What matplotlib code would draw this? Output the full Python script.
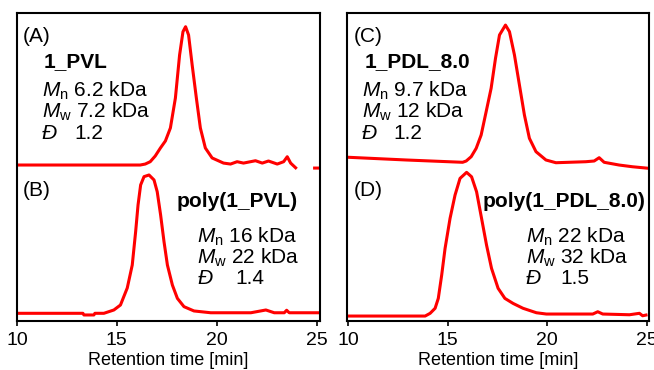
import numpy as np
import matplotlib
matplotlib.use("Agg")
import matplotlib.pyplot as plt

plt.rcParams['font.family'] = ['Liberation Sans', 'DejaVu Sans']
plt.rcParams['mathtext.fontset'] = 'custom'
plt.rcParams['mathtext.it'] = 'Liberation Sans:italic'
plt.rcParams['mathtext.rm'] = 'Liberation Sans'

# ---- data (retention time [min], detector signal) ----
tA = [10.0, 16.17, 16.42, 16.67, 16.92, 17.18, 17.43, 17.68, 17.93, 18.14, 18.31, 18.44,
      18.59, 18.77, 18.98, 19.18, 19.43, 19.77, 20.34, 20.69, 21.02, 21.34, 21.94, 22.28,
      22.59, 23.03, 23.35, 23.53, 23.70, 23.95, np.nan, 24.90, 25.10]
iA = [0.0, 0.0, 0.007, 0.024, 0.065, 0.123, 0.174, 0.268, 0.484, 0.795, 0.964, 1.0,
      0.94, 0.723, 0.484, 0.268, 0.123, 0.051, 0.014, 0.007, 0.024, 0.014, 0.031, 0.014,
      0.029, 0.007, 0.024, 0.06, 0.014, -0.02, np.nan, -0.022, -0.022]

tB = [10.0, 13.30, 13.35, 13.85, 13.90, 14.35, 14.85, 15.18, 15.52, 15.77, 15.94, 16.06,
      16.19, 16.36, 16.61, 16.86, 17.02, 17.19, 17.36, 17.53, 17.78, 18.03, 18.36, 18.86,
      19.70, 21.71, 22.46, 22.88, 23.38, 23.50, 23.63, 25.05]
iB = [0.0, 0.0, -0.012, -0.012, 0.0, 0.0, 0.024, 0.06, 0.183, 0.349, 0.59, 0.783,
      0.928, 0.988, 1.0, 0.964, 0.879, 0.711, 0.518, 0.349, 0.204, 0.108, 0.048, 0.017,
      0.004, 0.004, 0.024, 0.004, 0.004, 0.022, 0.004, 0.004]

tC = [10.0, 12.93, 15.75, 15.93, 16.18, 16.43, 16.68, 16.93, 17.18, 17.40, 17.60, 17.90,
      18.10, 18.35, 18.60, 18.85, 19.10, 19.43, 19.93, 20.43, 21.93, 22.35, 22.60, 22.85,
      23.60, 24.27, 25.10]
iC = [0.033, 0.014, -0.002, 0.007, 0.037, 0.095, 0.188, 0.35, 0.513, 0.722, 0.884, 0.953,
      0.907, 0.745, 0.536, 0.327, 0.165, 0.072, 0.014, -0.005, 0.002, 0.007, 0.03, -0.002,
      -0.021, -0.033, -0.044]

tD = [9.95, 13.87, 14.12, 14.37, 14.53, 14.70, 14.87, 15.12, 15.37, 15.62, 15.95, 16.20,
      16.45, 16.70, 16.95, 17.20, 17.53, 17.87, 18.28, 18.78, 19.45, 19.95, 22.28, 22.53,
      22.78, 24.12, 24.62, 24.78, 24.95]
iD = [0.0, 0.0, 0.019, 0.054, 0.123, 0.285, 0.471, 0.68, 0.842, 0.958, 1.0, 0.969,
      0.865, 0.68, 0.494, 0.332, 0.193, 0.123, 0.088, 0.054, 0.023, 0.014, 0.014, 0.03,
      0.014, 0.009, 0.019, 0.002, 0.007]

xticks = [10, 15, 20, 25]
xlabel = "Retention time [min]"

OFFSET = 1.072
RED = '#ff0000'

fig = plt.figure(figsize=(6.54, 3.70), dpi=100)
axL = fig.add_axes([17/654, 49.5/370, 303/654, 307.5/370])
axR = fig.add_axes([347/654, 49.5/370, 302/654, 307.5/370])

def style(ax, xlim, ylim):
    ax.set_xlim(*xlim)
    ax.set_ylim(*ylim)
    ax.set_xticks(xticks)
    ax.set_yticks([])
    for s in ax.spines.values():
        s.set_linewidth(1.5)
        s.set_color('black')
    ax.tick_params(axis='x', direction='out', length=3.6, width=1.2, pad=4.5, labelsize=14)
    ax.set_xlabel(xlabel, fontsize=13, labelpad=2)

LW = 2.2
axL.plot(tA, np.array(iA) + OFFSET, color=RED, lw=LW)
axL.plot(tB, iB, color=RED, lw=LW)
style(axL, (10, 25.17), (-0.052, 2.171))

axR.plot(tC, np.array(iC) + OFFSET, color=RED, lw=LW)
axR.plot(tD, iD, color=RED, lw=LW)
style(axR, (9.95, 25.1), (-0.031, 2.109))

FS = 15

def annot(ax, label, lab_xy, name, name_xy, mn, mw, d, x_m, x_num, ys):
    tr = ax.transAxes
    ax.text(lab_xy[0], lab_xy[1], label, transform=tr, fontsize=FS, va='baseline', ha='left')
    ax.text(name_xy[0], name_xy[1], name, transform=tr, fontsize=FS, fontweight='bold',
            va='baseline', ha='left')
    ax.text(x_m, ys[0], r'$\mathit{M}_{\mathrm{n}}$ ' + mn, transform=tr, fontsize=FS,
            va='baseline', ha='left')
    ax.text(x_m, ys[1], r'$\mathit{M}_{\mathrm{w}}$ ' + mw, transform=tr, fontsize=FS,
            va='baseline', ha='left')
    ax.text(x_m, ys[2], 'Đ', transform=tr, fontsize=FS, fontstyle='italic',
            va='baseline', ha='left')
    ax.text(x_num, ys[2], d, transform=tr, fontsize=FS, va='baseline', ha='left')

annot(axL, '(A)', (0.02, 0.907), '1_PVL', (0.088, 0.825), '6.2 kDa', '7.2 kDa', '1.2',
      0.082, 0.191, (0.728, 0.659, 0.590))
annot(axL, '(B)', (0.02, 0.405), 'poly(1_PVL)', (0.527, 0.369), '16 kDa', '22 kDa', '1.4',
      0.595, 0.72, (0.253, 0.186, 0.119))
annot(axR, '(C)', (0.023, 0.907), '1_PDL_8.0', (0.06, 0.825), '9.7 kDa', '12 kDa', '1.2',
      0.049, 0.153, (0.728, 0.659, 0.590))
annot(axR, '(D)', (0.023, 0.405), 'poly(1_PDL_8.0)', (0.45, 0.369), '22 kDa', '32 kDa', '1.5',
      0.593, 0.705, (0.253, 0.186, 0.119))

fig.savefig('out.png', dpi=100)
